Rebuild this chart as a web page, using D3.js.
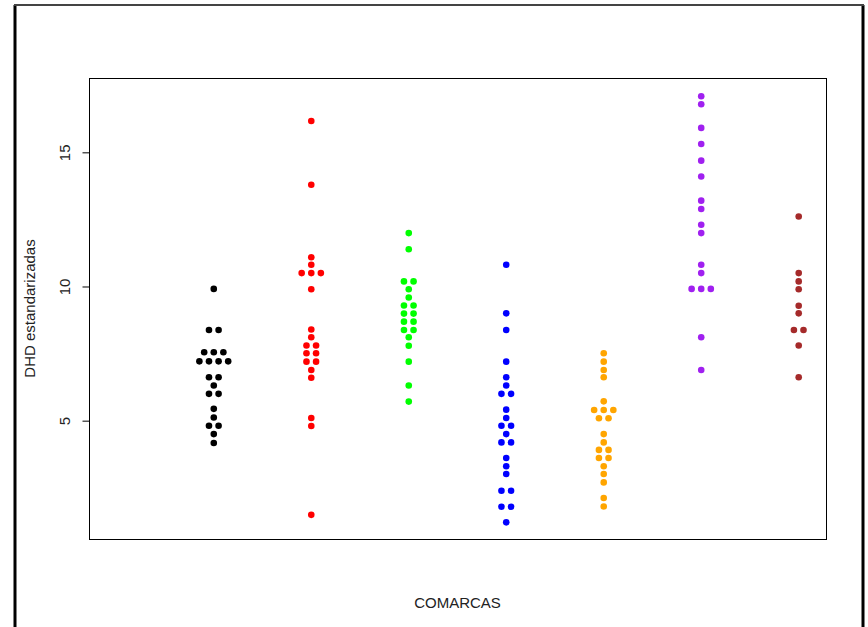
<!DOCTYPE html>
<html>
<head>
<meta charset="utf-8">
<script src="https://cdn.jsdelivr.net/npm/d3@7"></script>
<style>
  html, body { margin: 0; padding: 0; background: #fff; }
  svg { display: block; }
  text { font-family: "Liberation Sans", Arial, sans-serif; }
</style>
</head>
<body>
<svg id="chart" width="868" height="627"></svg>
<script>
// ---- Data ----
const groupPositions = [2, 3, 4, 5, 6, 7, 8];
const groupColors = ["#000000", "#FF0000", "#00FF00", "#0000FF", "#FFA500", "#A020F0", "#A52A2A"];

const g1 = [9.91, 8.38, 8.38, 7.55, 7.55, 7.55, 7.21, 7.21, 7.21, 7.21, 6.62, 6.62, 6.31, 6.0, 6.0, 5.44, 5.12, 4.81, 4.81, 4.50, 4.17];
const g2 = [16.17, 13.79, 11.09, 10.81, 10.50, 10.50, 10.50, 9.90, 8.40, 8.11, 7.80, 7.80, 7.51, 7.51, 7.20, 7.20, 6.89, 6.60, 5.10, 4.80, 1.49];
const g3 = [11.99, 11.39, 10.19, 10.19, 9.90, 9.59, 9.29, 9.29, 8.99, 8.99, 8.69, 8.69, 8.38, 8.38, 8.11, 7.79, 7.20, 6.31, 5.71];
const g4 = [10.81, 9.00, 8.38, 7.20, 6.62, 6.31, 6.0, 6.0, 5.41, 5.10, 4.81, 4.81, 4.50, 4.19, 4.19, 3.61, 3.30, 3.01, 2.39, 2.39, 1.79, 1.79, 1.21];
const g5 = [7.51, 7.20, 6.89, 6.62, 5.72, 5.40, 5.40, 5.40, 5.09, 5.09, 4.50, 4.19, 3.91, 3.91, 3.61, 3.61, 3.30, 3.01, 2.70, 2.12, 1.80];
const g6 = [17.09, 16.79, 15.91, 15.31, 14.69, 14.10, 13.20, 12.89, 12.30, 11.99, 10.81, 10.50, 9.91, 9.91, 9.91, 8.11, 6.89];
const g7 = [12.61, 10.50, 10.19, 9.90, 9.28, 9.00, 8.38, 8.38, 7.80, 6.62];
const groups = [g1, g2, g3, g4, g5, g6, g7];

const yTicks = [5, 10, 15];
const xLabel = "COMARCAS";
const yLabel = "DHD estandarizadas";

// ---- Layout ----
const svg = d3.select("#chart");
const plot = { left: 89, right: 826, top: 78, bottom: 539 };

const x = d3.scaleLinear().domain([0.72, 8.28]).range([plot.left, plot.right]);
const y = d3.scaleLinear().domain([0.59, 17.77]).range([plot.bottom, plot.top]);

// outer frame (partial, as in reference)
svg.append("line").attr("x1", 15).attr("y1", 5).attr("x2", 15).attr("y2", 627)
  .attr("stroke", "#000").attr("stroke-width", 3);
svg.append("line").attr("x1", 863).attr("y1", 5).attr("x2", 863).attr("y2", 627)
  .attr("stroke", "#000").attr("stroke-width", 3);
svg.append("line").attr("x1", 14).attr("y1", 5).attr("x2", 864).attr("y2", 5)
  .attr("stroke", "#444").attr("stroke-width", 2);

// plot box
svg.append("rect")
  .attr("x", plot.left + 0.5).attr("y", plot.top + 0.5)
  .attr("width", plot.right - plot.left).attr("height", plot.bottom - plot.top)
  .attr("fill", "none").attr("stroke", "#000").attr("stroke-width", 1);

// y axis
const yAxis = svg.append("g")
  .attr("transform", `translate(${plot.left + 0.5},0)`)
  .call(d3.axisLeft(y).tickValues(yTicks).tickSize(7).tickFormat(d3.format("d")));
yAxis.select(".domain").remove();
yAxis.selectAll(".tick line").attr("stroke", "#000");
yAxis.selectAll(".tick text")
  .attr("x", null).attr("dy", null)
  .attr("transform", "translate(-20,0) rotate(-90)")
  .attr("text-anchor", "middle")
  .attr("fill", "#222")
  .style("font-size", "15px");

// axis titles
svg.append("text")
  .attr("transform", `translate(35,${(plot.top + plot.bottom) / 2}) rotate(-90)`)
  .attr("text-anchor", "middle")
  .attr("fill", "#222")
  .style("font-size", "15px")
  .text(yLabel);

svg.append("text")
  .attr("x", (plot.left + plot.right) / 2)
  .attr("y", 608)
  .attr("text-anchor", "middle")
  .attr("fill", "#222")
  .style("font-size", "15px")
  .text(xLabel);

// beeswarm points: equal values in a group are spread symmetrically in a row
const spacing = 9.6;
groups.forEach((vals, gi) => {
  const rows = d3.group(vals, v => v);
  const pts = [];
  rows.forEach((arr, v) => {
    arr.forEach((_, i) => pts.push({ v, off: (i - (arr.length - 1) / 2) * spacing }));
  });
  svg.append("g").selectAll("circle")
    .data(pts)
    .join("circle")
    .attr("cx", d => x(groupPositions[gi]) + d.off)
    .attr("cy", d => y(d.v))
    .attr("r", 3.3)
    .attr("fill", groupColors[gi]);
});
</script>
</body>
</html>
